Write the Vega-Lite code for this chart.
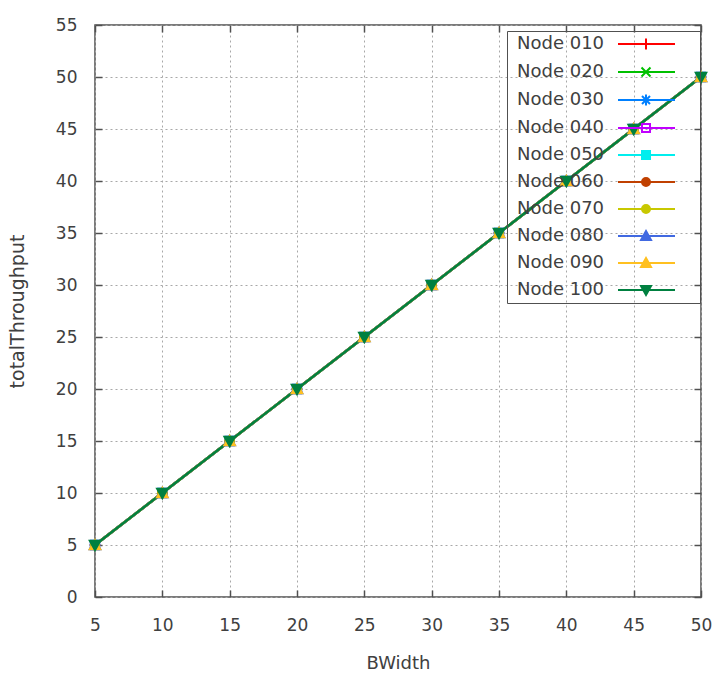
{
  "$schema": "https://vega.github.io/schema/vega-lite/v6.json",
  "width": 606,
  "height": 572,
  "autosize": {"type": "none"},
  "padding": {"left": 95, "top": 25, "right": 13, "bottom": 76},
  "background": "white",
  "config": {
    "view": {"stroke": "#505050", "strokeWidth": 1.5},
    "font": "DejaVu Sans",
    "axis": {"labelFont": "DejaVu Sans", "titleFont": "DejaVu Sans", "labelColor": "#404040", "titleColor": "#404040", "titleFontWeight": "normal"}
  },
  "data": {"values": [
    {"series": "Node 010", "x": 5, "y": 5}, {"series": "Node 010", "x": 10, "y": 10}, {"series": "Node 010", "x": 15, "y": 15}, {"series": "Node 010", "x": 20, "y": 20}, {"series": "Node 010", "x": 25, "y": 25}, {"series": "Node 010", "x": 30, "y": 30}, {"series": "Node 010", "x": 35, "y": 35}, {"series": "Node 010", "x": 40, "y": 40}, {"series": "Node 010", "x": 45, "y": 45}, {"series": "Node 010", "x": 50, "y": 50},
    {"series": "Node 020", "x": 5, "y": 5}, {"series": "Node 020", "x": 10, "y": 10}, {"series": "Node 020", "x": 15, "y": 15}, {"series": "Node 020", "x": 20, "y": 20}, {"series": "Node 020", "x": 25, "y": 25}, {"series": "Node 020", "x": 30, "y": 30}, {"series": "Node 020", "x": 35, "y": 35}, {"series": "Node 020", "x": 40, "y": 40}, {"series": "Node 020", "x": 45, "y": 45}, {"series": "Node 020", "x": 50, "y": 50},
    {"series": "Node 030", "x": 5, "y": 5}, {"series": "Node 030", "x": 10, "y": 10}, {"series": "Node 030", "x": 15, "y": 15}, {"series": "Node 030", "x": 20, "y": 20}, {"series": "Node 030", "x": 25, "y": 25}, {"series": "Node 030", "x": 30, "y": 30}, {"series": "Node 030", "x": 35, "y": 35}, {"series": "Node 030", "x": 40, "y": 40}, {"series": "Node 030", "x": 45, "y": 45}, {"series": "Node 030", "x": 50, "y": 50},
    {"series": "Node 040", "x": 5, "y": 5}, {"series": "Node 040", "x": 10, "y": 10}, {"series": "Node 040", "x": 15, "y": 15}, {"series": "Node 040", "x": 20, "y": 20}, {"series": "Node 040", "x": 25, "y": 25}, {"series": "Node 040", "x": 30, "y": 30}, {"series": "Node 040", "x": 35, "y": 35}, {"series": "Node 040", "x": 40, "y": 40}, {"series": "Node 040", "x": 45, "y": 45}, {"series": "Node 040", "x": 50, "y": 50},
    {"series": "Node 050", "x": 5, "y": 5}, {"series": "Node 050", "x": 10, "y": 10}, {"series": "Node 050", "x": 15, "y": 15}, {"series": "Node 050", "x": 20, "y": 20}, {"series": "Node 050", "x": 25, "y": 25}, {"series": "Node 050", "x": 30, "y": 30}, {"series": "Node 050", "x": 35, "y": 35}, {"series": "Node 050", "x": 40, "y": 40}, {"series": "Node 050", "x": 45, "y": 45}, {"series": "Node 050", "x": 50, "y": 50},
    {"series": "Node 060", "x": 5, "y": 5}, {"series": "Node 060", "x": 10, "y": 10}, {"series": "Node 060", "x": 15, "y": 15}, {"series": "Node 060", "x": 20, "y": 20}, {"series": "Node 060", "x": 25, "y": 25}, {"series": "Node 060", "x": 30, "y": 30}, {"series": "Node 060", "x": 35, "y": 35}, {"series": "Node 060", "x": 40, "y": 40}, {"series": "Node 060", "x": 45, "y": 45}, {"series": "Node 060", "x": 50, "y": 50},
    {"series": "Node 070", "x": 5, "y": 5}, {"series": "Node 070", "x": 10, "y": 10}, {"series": "Node 070", "x": 15, "y": 15}, {"series": "Node 070", "x": 20, "y": 20}, {"series": "Node 070", "x": 25, "y": 25}, {"series": "Node 070", "x": 30, "y": 30}, {"series": "Node 070", "x": 35, "y": 35}, {"series": "Node 070", "x": 40, "y": 40}, {"series": "Node 070", "x": 45, "y": 45}, {"series": "Node 070", "x": 50, "y": 50},
    {"series": "Node 080", "x": 5, "y": 5}, {"series": "Node 080", "x": 10, "y": 10}, {"series": "Node 080", "x": 15, "y": 15}, {"series": "Node 080", "x": 20, "y": 20}, {"series": "Node 080", "x": 25, "y": 25}, {"series": "Node 080", "x": 30, "y": 30}, {"series": "Node 080", "x": 35, "y": 35}, {"series": "Node 080", "x": 40, "y": 40}, {"series": "Node 080", "x": 45, "y": 45}, {"series": "Node 080", "x": 50, "y": 50},
    {"series": "Node 090", "x": 5, "y": 5}, {"series": "Node 090", "x": 10, "y": 10}, {"series": "Node 090", "x": 15, "y": 15}, {"series": "Node 090", "x": 20, "y": 20}, {"series": "Node 090", "x": 25, "y": 25}, {"series": "Node 090", "x": 30, "y": 30}, {"series": "Node 090", "x": 35, "y": 35}, {"series": "Node 090", "x": 40, "y": 40}, {"series": "Node 090", "x": 45, "y": 45}, {"series": "Node 090", "x": 50, "y": 50},
    {"series": "Node 100", "x": 5, "y": 5}, {"series": "Node 100", "x": 10, "y": 10}, {"series": "Node 100", "x": 15, "y": 15}, {"series": "Node 100", "x": 20, "y": 20}, {"series": "Node 100", "x": 25, "y": 25}, {"series": "Node 100", "x": 30, "y": 30}, {"series": "Node 100", "x": 35, "y": 35}, {"series": "Node 100", "x": 40, "y": 40}, {"series": "Node 100", "x": 45, "y": 45}, {"series": "Node 100", "x": 50, "y": 50}
  ]},
  "resolve": {
    "scale": {"x": "independent", "y": "independent", "stroke": "independent", "fill": "independent", "shape": "independent"},
    "axis": {"x": "independent", "y": "independent"}
  },
  "layer": [
    {
      "mark": {"type": "line", "strokeWidth": 2.5},
      "encoding": {
        "x": {"field": "x", "type": "quantitative", "scale": {"domain": [5, 50], "nice": false, "zero": false},
          "axis": {"orient": "bottom", "values": [5, 10, 15, 20, 25, 30, 35, 40, 45, 50], "title": "BWidth", "titleFontSize": 18, "labelFontSize": 17, "grid": true, "gridDash": [2, 3], "gridColor": "#a8a8a8", "gridWidth": 1, "domain": false, "tickSize": -7, "tickColor": "#505050", "tickWidth": 1.5, "labelPadding": 27, "titlePadding": 21, "labelFlush": false}},
        "y": {"field": "y", "type": "quantitative", "scale": {"domain": [0, 55], "nice": false, "zero": false},
          "axis": {"orient": "left", "values": [0, 5, 10, 15, 20, 25, 30, 35, 40, 45, 50, 55], "title": "totalThroughput", "titleFontSize": 19, "labelFontSize": 17, "grid": true, "gridDash": [2, 3], "gridColor": "#a8a8a8", "gridWidth": 1, "domain": false, "tickSize": -7, "tickColor": "#505050", "tickWidth": 1.5, "labelPadding": 25, "titlePadding": 28, "labelFlush": false}},
        "stroke": {"field": "series", "type": "nominal", "legend": null,
          "scale": {"domain": ["Node 010", "Node 020", "Node 030", "Node 040", "Node 050", "Node 060", "Node 070", "Node 080", "Node 090", "Node 100"],
            "range": ["#ff0000", "#00c000", "#0080ff", "#c000ff", "#00eeee", "#c04000", "#c8c800", "#4169e1", "#ffc020", "#008040"]}}
      }
    },
    {
      "mark": {"type": "point", "filled": true, "size": 110, "strokeWidth": 2, "opacity": 1},
      "encoding": {
        "x": {"field": "x", "type": "quantitative", "scale": {"domain": [5, 50], "nice": false, "zero": false}, "axis": null},
        "y": {"field": "y", "type": "quantitative", "scale": {"domain": [0, 55], "nice": false, "zero": false}, "axis": null},
        "stroke": {"field": "series", "type": "nominal", "legend": null,
          "scale": {"domain": ["Node 010", "Node 020", "Node 030", "Node 040", "Node 050", "Node 060", "Node 070", "Node 080", "Node 090", "Node 100"],
            "range": ["#ff0000", "#00c000", "#0080ff", "#c000ff", "#00eeee", "#c04000", "#c8c800", "#4169e1", "#ffc020", "#008040"]}},
        "fill": {"field": "series", "type": "nominal", "legend": null,
          "scale": {"domain": ["Node 010", "Node 020", "Node 030", "Node 040", "Node 050", "Node 060", "Node 070", "Node 080", "Node 090", "Node 100"],
            "range": ["transparent", "transparent", "transparent", "transparent", "#00eeee", "#c04000", "#c8c800", "#4169e1", "#ffc020", "#008040"]}},
        "shape": {"field": "series", "type": "nominal", "legend": null,
          "scale": {"domain": ["Node 010", "Node 020", "Node 030", "Node 040", "Node 050", "Node 060", "Node 070", "Node 080", "Node 090", "Node 100"],
            "range": ["M-1,0H1M0,-1V1", "M-0.8,-0.8L0.8,0.8M-0.8,0.8L0.8,-0.8", "M-1,0H1M0,-1V1M-0.7,-0.7L0.7,0.7M-0.7,0.7L0.7,-0.7", "M-0.8,-0.8H0.8V0.8H-0.8Z", "M-0.8,-0.8H0.8V0.8H-0.8Z", "M-0.8,0A0.8,0.8,0,1,0,0.8,0A0.8,0.8,0,1,0,-0.8,0Z", "M-0.8,0A0.8,0.8,0,1,0,0.8,0A0.8,0.8,0,1,0,-0.8,0Z", "M0,-1L1,0.8H-1Z", "M0,-1L1,0.8H-1Z", "M0,1L1,-0.8H-1Z"]}}
      }
    },
    {
      "transform": [{"filter": "datum.x > 1000"}],
      "mark": {"type": "point", "filled": true, "size": 100, "strokeWidth": 2},
      "encoding": {
        "x": {"field": "x", "type": "quantitative", "scale": {"domain": [5, 50], "nice": false, "zero": false}, "axis": null},
        "y": {"field": "y", "type": "quantitative", "scale": {"domain": [0, 55], "nice": false, "zero": false}, "axis": null},
        "stroke": {"field": "series", "type": "nominal",
          "scale": {"domain": ["Node 010", "Node 020", "Node 030", "Node 040", "Node 050", "Node 060", "Node 070", "Node 080", "Node 090", "Node 100"],
            "range": ["#ff0000", "#00c000", "#0080ff", "#c000ff", "#00eeee", "#c04000", "#c8c800", "#4169e1", "#ffc020", "#008040"]},
          "legend": {"orient": "none", "legendX": 412, "legendY": 6, "title": null, "padding": 4, "strokeColor": "#505050", "labelOffset": -12, "labelFontSize": 18, "labelFont": "DejaVu Sans", "labelColor": "#404040", "labelLimit": 300, "symbolSize": 100, "symbolStrokeWidth": 2, "rowPadding": 9, "symbolOpacity": 1}},
        "fill": {"field": "series", "type": "nominal",
          "scale": {"domain": ["Node 010", "Node 020", "Node 030", "Node 040", "Node 050", "Node 060", "Node 070", "Node 080", "Node 090", "Node 100"],
            "range": ["transparent", "transparent", "transparent", "transparent", "#00eeee", "#c04000", "#c8c800", "#4169e1", "#ffc020", "#008040"]},
          "legend": {"orient": "none", "legendX": 412, "legendY": 6, "title": null, "padding": 4, "strokeColor": "#505050", "labelOffset": -12, "labelFontSize": 18, "labelFont": "DejaVu Sans", "labelColor": "#404040", "labelLimit": 300, "symbolSize": 100, "symbolStrokeWidth": 2, "rowPadding": 9, "symbolOpacity": 1}},
        "shape": {"field": "series", "type": "nominal",
          "scale": {"domain": ["Node 010", "Node 020", "Node 030", "Node 040", "Node 050", "Node 060", "Node 070", "Node 080", "Node 090", "Node 100"],
            "range": ["M19.6,0H31M25.2,-1.1V1.1M34.4,0", "M19.6,0H31M24.3,-0.9L26.1,0.9M24.3,0.9L26.1,-0.9M34.4,0", "M19.6,0H31M25.2,-1.1V1.1M24.4,-0.8L26,0.8M24.4,0.8L26,-0.8M34.4,0", "M19.6,0H31M24.4,-0.8H26V0.8H24.4ZM34.4,0", "M19.6,0H31M24.4,-0.8H26V0.8H24.4ZM34.4,0", "M19.6,0H31M24.4,0A0.8,0.8,0,1,0,26,0A0.8,0.8,0,1,0,24.4,0ZM34.4,0", "M19.6,0H31M24.4,0A0.8,0.8,0,1,0,26,0A0.8,0.8,0,1,0,24.4,0ZM34.4,0", "M19.6,0H31M25.2,-1L26.2,0.8H24.2ZM34.4,0", "M19.6,0H31M25.2,-1L26.2,0.8H24.2ZM34.4,0", "M19.6,0H31M25.2,1L26.2,-0.8H24.2ZM34.4,0"]},
          "legend": {"orient": "none", "legendX": 412, "legendY": 6, "title": null, "padding": 4, "strokeColor": "#505050", "labelOffset": -12, "labelFontSize": 18, "labelFont": "DejaVu Sans", "labelColor": "#404040", "labelLimit": 300, "symbolSize": 100, "symbolStrokeWidth": 2, "rowPadding": 9, "symbolOpacity": 1}}
      }
    },
    {
      "transform": [{"filter": "datum.x > 1000"}],
      "mark": {"type": "point"},
      "encoding": {
        "x": {"field": "x", "type": "quantitative", "scale": {"domain": [5, 50], "nice": false, "zero": false},
          "axis": {"orient": "top", "values": [5, 10, 15, 20, 25, 30, 35, 40, 45, 50], "title": null, "labels": false, "grid": false, "domain": false, "tickSize": -7, "tickColor": "#505050", "tickWidth": 1.5}},
        "y": {"field": "y", "type": "quantitative", "scale": {"domain": [0, 55], "nice": false, "zero": false},
          "axis": {"orient": "right", "values": [0, 5, 10, 15, 20, 25, 30, 35, 40, 45, 50, 55], "title": null, "labels": false, "grid": false, "domain": false, "tickSize": -7, "tickColor": "#505050", "tickWidth": 1.5}}
      }
    }
  ]
}
